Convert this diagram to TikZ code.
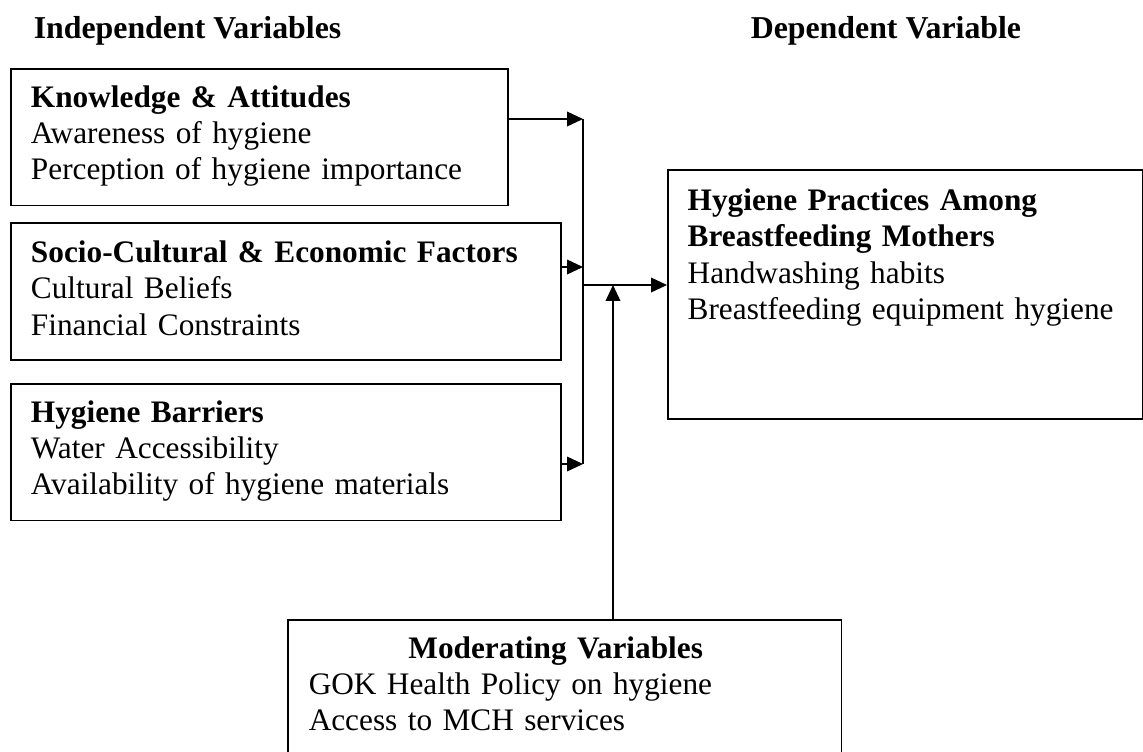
\documentclass[tikz,border=0pt]{standalone}
\usepackage{fontspec}
\setmainfont{Liberation Serif}
\usepackage{tikz}
\usetikzlibrary{arrows.meta,positioning}

\begin{document}
\begin{tikzpicture}[x=0.377pt, y=-0.377pt, line width=0.6pt,
        >={Triangle[length=6pt,width=5.5pt]},
        box/.style={draw, anchor=north west, align=left, inner xsep=7.6pt, inner ysep=0pt,
                font=\fontsize{11.8pt}{13.6pt}\selectfont},
        head/.style={anchor=base west, inner sep=0pt, font=\fontsize{12pt}{13.6pt}\selectfont\bfseries}]
        \useasboundingbox (0,0) rectangle (1143,751);

        \node[head] (iv) at (33,38) {Independent Variables};
        \node[head] (dv) at (750,38) {Dependent Variable};

        \node[box, text width=172.2pt, text height=14.7pt, text depth=36.9pt] (1) at (10,68)
                {\textbf{Knowledge \& Attitudes}\\Awareness of hygiene\\Perception of hygiene importance};
        \node[box, text width=192.2pt, text height=15.1pt, text depth=36.6pt] (2) at (10,222)
                {\textbf{Socio-Cultural \& Economic Factors}\\Cultural Beliefs\\Financial Constraints};
        \node[box, text width=192.2pt, text height=14.7pt, text depth=36.9pt] (3) at (10,383)
                {\textbf{Hygiene Barriers}\\Water Accessibility\\Availability of hygiene materials};
        \node[box, inner xsep=7.5pt, text width=164pt, text height=15.5pt, text depth=78.4pt] (4) at (667,169)
                {\textbf{Hygiene Practices Among}\\\textbf{Breastfeeding Mothers}\\Handwashing habits\\Breastfeeding equipment hygiene};
        \node[box, inner xsep=7.9pt, text width=193pt, text height=14.7pt, text depth=40.3pt] (5) at (287,619)
                {\makebox[193pt]{\textbf{Moderating Variables}\hspace{6.8pt}}\\GOK Health Policy on hygiene\\Access to MCH services};

        \coordinate (j1) at (583,119);
        \coordinate (j2) at (583,267);
        \coordinate (j3) at (583,464);
        \coordinate (j4) at (583,285);
        \coordinate (m) at (613,285);

        \draw (j1) -- (j3);
        \draw[->] (1.east |- j1) -- (j1);
        \draw[->] (2.east |- j2) -- (j2);
        \draw[->] (3.east |- j3) -- (j3);
        \draw[->] (j4) -- (4.west |- j4);
        \draw[->] (5.north -| m) -- (m);
\end{tikzpicture}
\end{document}
